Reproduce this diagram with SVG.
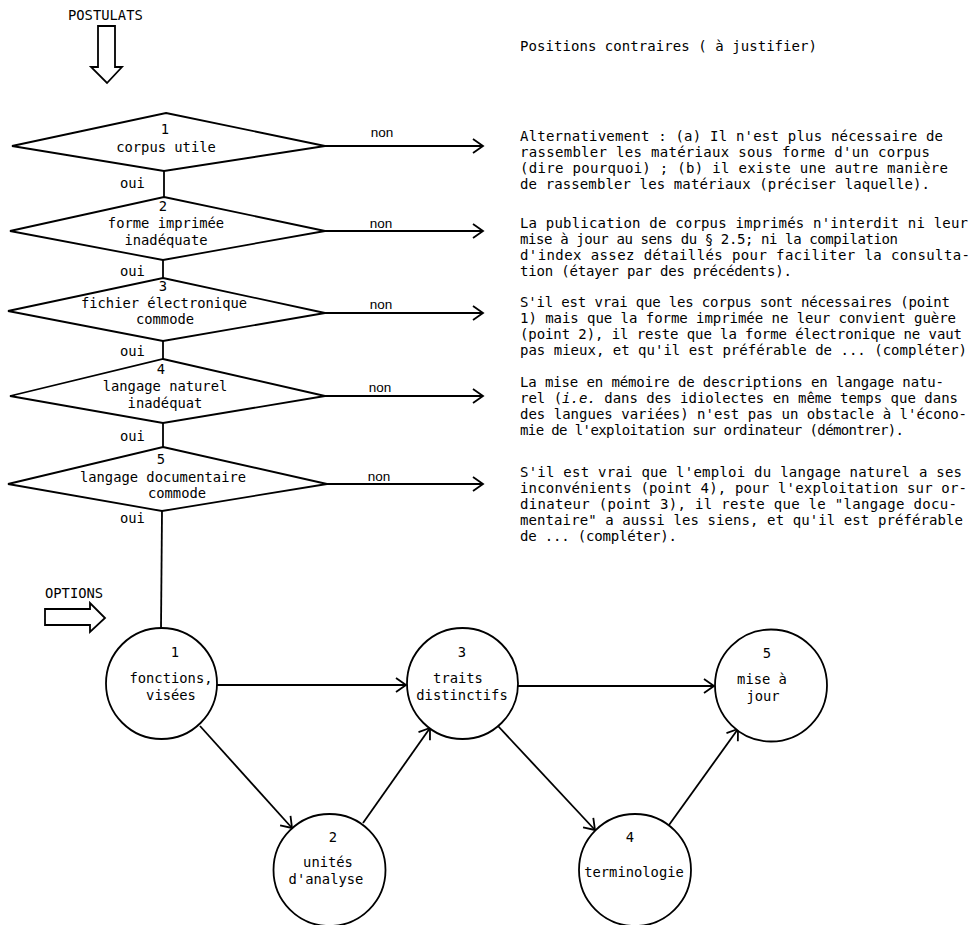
<svg xmlns="http://www.w3.org/2000/svg" width="978" height="925" viewBox="0 0 978 925">
<defs>
<marker id="arr" markerUnits="userSpaceOnUse" markerWidth="14" markerHeight="16" refX="10" refY="7" orient="auto" overflow="visible">
<path d="M0,0 L10,7 L0,14" fill="none" stroke="#000" stroke-width="1.8"/>
</marker>
<style>
.s{fill:none;stroke:#000;stroke-width:1.8;stroke-linejoin:miter}
.n{fill:#fff;stroke:#000;stroke-width:1.8}
.t{font-family:"DejaVu Sans Mono","Liberation Mono",monospace;font-size:13.8px;fill:#000;text-anchor:middle}
.p{font-family:"DejaVu Sans Mono","Liberation Mono",monospace;font-size:14px;fill:#000}
.h{font-family:"DejaVu Sans Mono","Liberation Mono",monospace;font-size:13.8px;fill:#000}
.no{font-family:"Liberation Sans",Arial,sans-serif;font-size:13.5px;fill:#000;text-anchor:middle}
</style>
</defs>
<rect width="978" height="925" fill="#fff"/>

<g id="postulats">
<text class="h" x="68" y="20">POSTULATS</text>
<path class="s" d="M98,26 L115,26 L115,67 L122,67 L107,83 L91,67 L98,67 Z"/>
</g>
<g id="options">
<text class="h" x="45" y="598">OPTIONS</text>
<path class="s" d="M45,609 L90,609 L90,603 L105,618 L90,632 L90,625 L45,625 Z"/>
</g>

<g id="connectors">
<line class="s" x1="164" y1="171" x2="164" y2="197"/>
<line class="s" x1="163" y1="260" x2="163" y2="278"/>
<line class="s" x1="163" y1="341" x2="163" y2="359"/>
<line class="s" x1="163" y1="423" x2="163" y2="447"/>
<line class="s" x1="162" y1="511" x2="161" y2="628"/>
<line class="s" x1="325" y1="146" x2="483" y2="146" marker-end="url(#arr)"/>
<line class="s" x1="325" y1="231" x2="483" y2="231" marker-end="url(#arr)"/>
<line class="s" x1="325" y1="313" x2="483" y2="313" marker-end="url(#arr)"/>
<line class="s" x1="325" y1="396" x2="483" y2="396" marker-end="url(#arr)"/>
<line class="s" x1="327" y1="484" x2="483" y2="484" marker-end="url(#arr)"/>
<text class="no" x="382" y="137">non</text>
<text class="no" x="381" y="228">non</text>
<text class="no" x="381" y="309">non</text>
<text class="no" x="380" y="392">non</text>
<text class="no" x="379" y="481">non</text>
<text class="h" x="120" y="188">oui</text>
<text class="h" x="120" y="276">oui</text>
<text class="h" x="120" y="356">oui</text>
<text class="h" x="120" y="441">oui</text>
<text class="h" x="120" y="523">oui</text>
<line class="s" x1="217" y1="685" x2="406" y2="685" marker-end="url(#arr)"/>
<line class="s" x1="200" y1="726" x2="292" y2="828" marker-end="url(#arr)"/>
<line class="s" x1="363" y1="823" x2="430" y2="728" marker-end="url(#arr)"/>
<line class="s" x1="518" y1="686" x2="714" y2="686" marker-end="url(#arr)"/>
<line class="s" x1="498" y1="726" x2="595" y2="830" marker-end="url(#arr)"/>
<line class="s" x1="669" y1="825" x2="738" y2="729" marker-end="url(#arr)"/>
</g>

<g id="d1">
<polygon class="n" points="166,113 325,146 164,171 12,146"/>
<text class="t" x="165" y="134">1</text>
<text class="t" x="166" y="152">corpus utile</text>
</g>
<g id="d2">
<polygon class="n" points="164,197 325,231 163,260 10,231"/>
<text class="t" x="163" y="211">2</text>
<text class="t" x="166" y="228">forme imprimée</text>
<text class="t" x="166" y="245">inadéquate</text>
</g>
<g id="d3">
<polygon class="n" points="163,278 325,313 163,341 8,311"/>
<text class="t" x="163" y="291">3</text>
<text class="t" x="164" y="308">fichier électronique</text>
<text class="t" x="165" y="324">commode</text>
</g>
<g id="d4">
<polygon class="n" points="163,359 325,396 163,423 10,396"/>
<text class="t" x="161" y="374">4</text>
<text class="t" x="165" y="391">langage naturel</text>
<text class="t" x="165" y="408">inadéquat</text>
</g>
<g id="d5">
<polygon class="n" points="163,447 327,484 162,511 8,484"/>
<text class="t" x="161" y="464">5</text>
<text class="t" x="163" y="482">langage documentaire</text>
<text class="t" x="177" y="498">commode</text>
</g>

<g id="c1">
<circle class="n" cx="161.5" cy="683.5" r="55.5"/>
<text class="t" x="175" y="657">1</text>
<text class="t" x="171" y="683">fonctions,</text>
<text class="t" x="171" y="700">visées</text>
</g>
<g id="c2">
<circle class="n" cx="329.5" cy="870" r="56"/>
<text class="t" x="333" y="842">2</text>
<text class="t" x="328" y="867">unités</text>
<text class="t" x="326" y="884">d'analyse</text>
</g>
<g id="c3">
<circle class="n" cx="462.5" cy="683.5" r="55.5"/>
<text class="t" x="462" y="657">3</text>
<text class="t" x="458" y="683">traits</text>
<text class="t" x="462" y="700">distinctifs</text>
</g>
<g id="c4">
<circle class="n" cx="635" cy="870" r="56"/>
<text class="t" x="630" y="842">4</text>
<text class="t" x="634" y="877">terminologie</text>
</g>
<g id="c5">
<circle class="n" cx="771" cy="685.5" r="56"/>
<text class="t" x="767" y="658">5</text>
<text class="t" x="762" y="684">mise à</text>
<text class="t" x="763" y="701">jour</text>
</g>

<g id="positions">
<text class="p" x="520" y="51" textLength="297" lengthAdjust="spacing">Positions contraires ( à justifier)</text>
<text class="p" x="520" y="141" textLength="423" lengthAdjust="spacing">Alternativement : (a) Il n'est plus nécessaire de</text>
<text class="p" x="520" y="157" textLength="410" lengthAdjust="spacing">rassembler les matériaux sous forme d'un corpus</text>
<text class="p" x="520" y="173" textLength="428" lengthAdjust="spacing">(dire pourquoi) ; (b) il existe une autre manière</text>
<text class="p" x="520" y="189" textLength="410" lengthAdjust="spacing">de rassembler les matériaux (préciser laquelle).</text>
<text class="p" x="520" y="228" textLength="448" lengthAdjust="spacing">La publication de corpus imprimés n'interdit ni leur</text>
<text class="p" x="520" y="244" textLength="378" lengthAdjust="spacing">mise à jour au sens du § 2.5; ni la compilation</text>
<text class="p" x="520" y="260" textLength="450" lengthAdjust="spacing">d'index assez détaillés pour faciliter la consulta-</text>
<text class="p" x="520" y="276" textLength="272" lengthAdjust="spacing">tion (étayer par des précédents).</text>
<text class="p" x="520" y="307" textLength="430" lengthAdjust="spacing">S'il est vrai que les corpus sont nécessaires (point</text>
<text class="p" x="520" y="323" textLength="436" lengthAdjust="spacing">1) mais que la forme imprimée ne leur convient guère</text>
<text class="p" x="520" y="339" textLength="442" lengthAdjust="spacing">(point 2), il reste que la forme électronique ne vaut</text>
<text class="p" x="520" y="355" textLength="447" lengthAdjust="spacing">pas mieux, et qu'il est préférable de ... (compléter)</text>
<text class="p" x="520" y="387" textLength="424" lengthAdjust="spacing">La mise en mémoire de descriptions en langage natu-</text>
<text class="p" x="520" y="403" textLength="438" lengthAdjust="spacing">rel (<tspan font-style="italic">i.e.</tspan> dans des idiolectes en même temps que dans</text>
<text class="p" x="520" y="419" textLength="447" lengthAdjust="spacing">des langues variées) n'est pas un obstacle à l'écono-</text>
<text class="p" x="520" y="435" textLength="384" lengthAdjust="spacing">mie de l'exploitation sur ordinateur (démontrer).</text>
<text class="p" x="520" y="477" textLength="442" lengthAdjust="spacing">S'il est vrai que l'emploi du langage naturel a ses</text>
<text class="p" x="520" y="493" textLength="447" lengthAdjust="spacing">inconvénients (point 4), pour l'exploitation sur or-</text>
<text class="p" x="520" y="509" textLength="437" lengthAdjust="spacing">dinateur (point 3), il reste que le "langage docu-</text>
<text class="p" x="520" y="525" textLength="443" lengthAdjust="spacing">mentaire" a aussi les siens, et qu'il est préférable</text>
<text class="p" x="520" y="541" textLength="157" lengthAdjust="spacing">de ... (compléter).</text>
</g>
</svg>
